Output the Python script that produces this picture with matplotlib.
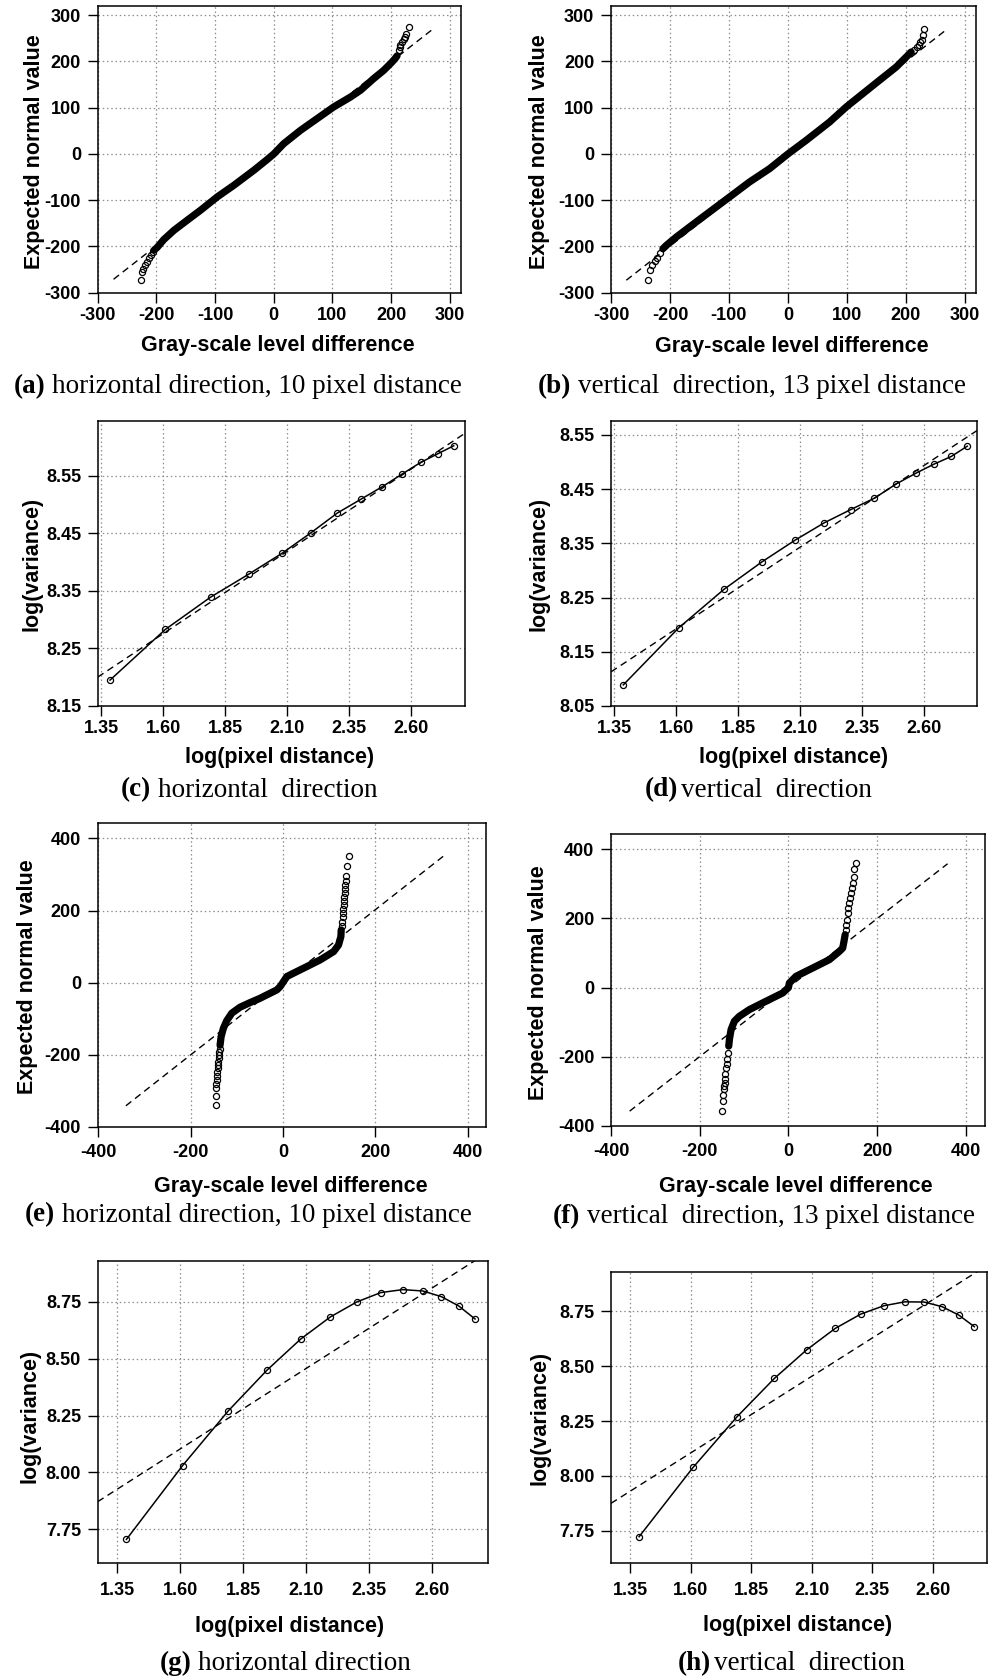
import numpy as np
import matplotlib
matplotlib.use("Agg")
import matplotlib.pyplot as plt
from matplotlib import font_manager as fm

# ---- data -------------------------------------------------------------
pixel_dist = [4, 5, 6, 7, 8, 9, 10, 11, 12, 13, 14, 15, 16]

# log(variance) per pixel distance
var_c = [8.195, 8.283, 8.339, 8.379, 8.415, 8.451, 8.485, 8.509, 8.531, 8.553, 8.573, 8.588, 8.602]
var_d = [8.089, 8.194, 8.265, 8.316, 8.356, 8.388, 8.412, 8.433, 8.459, 8.479, 8.496, 8.510, 8.529]
var_g = [7.706, 8.030, 8.271, 8.450, 8.586, 8.683, 8.749, 8.790, 8.803, 8.797, 8.772, 8.731, 8.674]
var_h = [7.724, 8.039, 8.270, 8.444, 8.574, 8.671, 8.736, 8.774, 8.792, 8.791, 8.770, 8.732, 8.679]

# least-squares lines (intercept, slope)
fit_c = (7.818, 0.2859)
fit_d = (7.710, 0.3015)
fit_g = (6.974, 0.7057)
fit_h = (6.992, 0.6958)

# normal QQ plots: dense body + separated tail points + qq line ends
qq_a_core_x = [-204.0, -198.6, -187.3, -170.0, -147.6, -124.9, -96.5, -68.0, -34.0, -11.4, 0.0, 17.0,
               45.4, 73.8, 102.0, 130.5, 147.6, 170.0, 187.3, 201.5, 207.0, 210.0]
qq_a_core_y = [-208.0, -202.0, -185.0, -165.0, -143.4, -121.8, -93.0, -67.7, -35.3, -12.2, 0.0, 22.3,
               51.0, 76.4, 101.6, 123.0, 137.6, 162.8, 180.8, 198.8, 206.8, 212.0]
qq_a_tail_x = [-227.0, -224.0, -222.4, -220.0, -216.8, -212.8, -208.8, -205.3,
               212.8, 214.5, 215.7, 218.6, 221.4, 223.0, 226.0, 229.9]
qq_a_tail_y = [-271.5, -255.0, -247.7, -240.5, -233.4, -226.0, -219.0, -211.8,
               224.1, 231.3, 236.4, 242.0, 247.9, 252.9, 260.2, 274.5]
qq_a_ref_x = [-273, 272]
qq_a_ref_y = [-271, 271]

qq_b_core_x = [-212.0, -206.0, -189.0, -166.7, -144.0, -98.9, -65.0, -31.0, 0.0, 31.0, 70.6, 98.9,
               127.0, 155.0, 183.6, 200.6, 209.0]
qq_b_core_y = [-205.0, -197.4, -179.4, -157.8, -136.0, -93.0, -60.5, -31.7, 0.0, 29.5, 69.0, 101.6,
               130.4, 159.0, 188.0, 209.6, 220.5]
qq_b_tail_x = [-237.3, -233.3, -230.0, -226.0, -222.0, -217.5,
               214.7, 218.6, 222.0, 224.3, 227.0, 228.8, 231.6]
qq_b_tail_y = [-273.0, -250.0, -240.6, -232.0, -224.0, -214.0,
               225.5, 231.0, 236.0, 242.0, 247.0, 256.5, 270.9]
qq_b_ref_x = [-274, 271]
qq_b_ref_y = [-273, 271]

qq_e_core_x = [-136.0, -133.7, -128.7, -121.4, -110.6, -92.6, -70.9, -50.0, -34.7, -13.0, -5.8, 0.0,
               8.7, 23.0, 52.0, 81.0, 110.0, 120.7, 125.7, 126.4]
qq_e_core_y = [-174.0, -150.0, -126.6, -105.5, -85.0, -68.3, -55.5, -44.0, -34.2, -20.4, -11.1, 0.0,
               16.7, 26.0, 44.4, 63.0, 86.0, 104.5, 127.7, 146.0]
qq_e_tail_x = [-145.2, -145.2, -144.6, -143.9, -143.2, -142.5, -141.8, -141.0, -140.3, -139.6,
               -138.8, -138.1, -137.4, -136.7,
               127.9, 128.6, 129.3, 130.0, 130.7, 131.4, 132.1, 132.9, 133.6, 134.3, 135.0,
               135.8, 136.5, 138.7, 142.3]
qq_e_tail_y = [-339.5, -313.6, -293.0, -281.0, -270.0, -259.0, -248.0, -238.0, -229.0, -220.0,
               -210.0, -201.0, -192.0, -183.0,
               157.0, 169.0, 181.5, 193.0, 204.0, 214.0, 225.0, 237.0, 248.0, 259.0, 271.0,
               283.0, 296.0, 324.0, 351.6]
qq_e_ref_x = [-340, 348]
qq_e_ref_y = [-342, 351]

qq_f_core_x = [-134.5, -133.0, -129.2, -121.7, -110.4, -87.9, -57.9, -27.8, -12.8, 0.0, 2.3, 17.3,
               32.3, 62.4, 92.4, 115.0, 122.5, 126.0, 128.0]
qq_f_core_y = [-169.0, -150.0, -121.0, -97.0, -82.7, -63.5, -44.2, -25.0, -15.4, 0.0, 13.5, 32.7,
               42.3, 61.5, 80.8, 104.8, 114.4, 138.5, 153.0]
qq_f_tail_x = [-149.5, -147.0, -146.5, -145.8, -145.0, -144.0, -143.0, -142.0, -140.5, -139.5,
               -138.0, -136.5,
               129.0, 130.0, 131.5, 133.7, 135.0, 137.5, 139.7, 142.0, 143.5, 145.0, 147.0,
               148.8, 152.5]
qq_f_tail_y = [-356.7, -328.0, -311.0, -294.0, -285.0, -275.0, -263.0, -251.0, -231.7, -220.0,
               -207.7, -188.0,
               167.0, 182.0, 196.0, 215.0, 230.0, 244.0, 258.7, 273.0, 287.5, 302.0, 319.0,
               342.0, 359.6]
qq_f_ref_x = [-358, 359]
qq_f_ref_y = [-357, 358]

ticks_qq300 = [-300, -200, -100, 0, 100, 200, 300]
ticks_qq400 = [-400, -200, 0, 200, 400]
ticks_logd = [1.35, 1.60, 1.85, 2.10, 2.35, 2.60]
ticks_var_c = [8.15, 8.25, 8.35, 8.45, 8.55]
ticks_var_d = [8.05, 8.15, 8.25, 8.35, 8.45, 8.55]
ticks_var_gh = [7.75, 8.00, 8.25, 8.50, 8.75]

# ---- fonts ------------------------------------------------------------
installed = {f.name for f in fm.fontManager.ttflist}


def pick(*names):
    for n in names:
        if n in installed:
            return n
    return "DejaVu Sans"


tick_font = pick("Liberation Sans Narrow", "Liberation Sans")
label_font = pick("Liberation Sans", "DejaVu Sans")
cap_font = pick("Liberation Serif", "DejaVu Serif")

plt.rcParams["font.family"] = tick_font
plt.rcParams["font.weight"] = "bold"
plt.rcParams["font.size"] = 13

W, H = 992, 1677
fig = plt.figure(figsize=(W / 100, H / 100), dpi=100)


def px(x, y):
    return x / W, 1 - y / H


def make_ax(x0, x1, y0, y1):
    return fig.add_axes([x0 / W, 1 - y1 / H, (x1 - x0) / W, (y1 - y0) / H])


def setup(ax, xlim, ylim, xt, yt, fmt, xpad=3.0):
    ax.set_xlim(xlim)
    ax.set_ylim(ylim)
    ax.set_xticks(xt)
    ax.set_yticks(yt)
    ax.set_xticklabels([fmt(v) for v in xt])
    ax.set_yticklabels([fmt(v) for v in yt])
    ax.grid(True, color="#8e8e8e", linestyle=(0, (1.2, 2.2)), lw=0.9)
    ax.set_axisbelow(True)
    ax.tick_params(direction="out", length=7.4, width=1.0, labelsize=13)
    ax.tick_params(axis="y", pad=4.6)
    ax.tick_params(axis="x", pad=xpad)
    for s in ax.spines.values():
        s.set_linewidth(1.1)


def qq(ax, cx, cy, tx, ty, rx, ry):
    ax.plot(cx, cy, color="black", lw=5.2, solid_capstyle="round", solid_joinstyle="round")
    ax.plot(tx, ty, "o", mfc="none", mec="black", ms=4.4, mew=0.9)
    ax.plot(rx, ry, color="black", lw=1.0, dashes=(5.0, 3.4))


def variance(ax, vals, fit):
    x = np.log(pixel_dist)
    ax.plot(x, vals, "-o", color="black", lw=1.1, mfc="none", ms=4.4, mew=0.9)
    ax.axline((0, fit[0]), slope=fit[1], color="black", lw=1.0, dashes=(5.0, 3.4))


def labels(xl, xl_pos, yl, yl_pos):
    fig.text(*px(*xl_pos), xl, ha="center", va="center", family=label_font,
             weight="bold", size=15.5)
    fig.text(*px(*yl_pos), yl, ha="center", va="center", rotation=90,
             family=label_font, weight="bold", size=15.5)


caps = []


def caption(tag, rest, cx, cy, gap=None):
    t1 = fig.text(0, 0, tag, family=cap_font, weight="bold", size=19.5, va="center")
    t2 = fig.text(0, 0, rest, family=cap_font, weight="normal", size=19.5, va="center")
    caps.append((t1, t2, cx, cy, gap))


def place_captions():
    r = fig.canvas.get_renderer()
    sp = fig.text(0, 0, "a a", family=cap_font, size=19.5)
    sp2 = fig.text(0, 0, "aa", family=cap_font, size=19.5)
    space = sp.get_window_extent(r).width - sp2.get_window_extent(r).width
    sp.remove()
    sp2.remove()
    for t1, t2, cx, cy, gap in caps:
        g = space if gap is None else gap
        w1 = t1.get_window_extent(r).width
        w2 = t2.get_window_extent(r).width
        x0 = cx - (w1 + g + w2) / 2
        t1.set_position(px(x0, cy))
        t2.set_position(px(x0 + w1 + g, cy))


int_fmt = lambda v: str(int(v))
dec_fmt = lambda v: f"{v:.2f}"

# (a)
ax = make_ax(97.7, 461, 6, 292.7)
setup(ax, (-300, 319), (-300, 320), ticks_qq300, ticks_qq300, int_fmt)
qq(ax, qq_a_core_x, qq_a_core_y, qq_a_tail_x, qq_a_tail_y, qq_a_ref_x, qq_a_ref_y)
labels("Gray-scale level difference", (277.8, 346), "Expected normal value", (35, 152))
caption("(a)", "horizontal direction, 10 pixel distance", 238, 386.7)

# (b)
ax = make_ax(611, 976, 6, 292.7)
setup(ax, (-300, 319), (-300, 320), ticks_qq300, ticks_qq300, int_fmt)
qq(ax, qq_b_core_x, qq_b_core_y, qq_b_tail_x, qq_b_tail_y, qq_b_ref_x, qq_b_ref_y)
labels("Gray-scale level difference", (791.7, 346.7), "Expected normal value", (539, 152))
caption("(b)", "vertical  direction, 13 pixel distance", 751.8, 386.7)

# (c)
ax = make_ax(97.7, 465, 420.7, 706)
setup(ax, (1.3366, 2.818), (8.15, 8.6455), ticks_logd, ticks_var_c, dec_fmt)
variance(ax, var_c, fit_c)
labels("log(pixel distance)", (280, 758), "log(variance)", (31.7, 564))
caption("(c)", "horizontal  direction", 249, 790)

# (d)
ax = make_ax(611, 977, 420.7, 706)
setup(ax, (1.3366, 2.812), (8.05, 8.576), ticks_logd, ticks_var_d, dec_fmt)
variance(ax, var_d, fit_d)
labels("log(pixel distance)", (793.5, 758), "log(variance)", (539.3, 564))
caption("(d)", "vertical  direction", 758.5, 790, gap=3)

# (e)
ax = make_ax(97.7, 486, 823.3, 1126.7)
setup(ax, (-401, 440), (-400, 442), ticks_qq400, ticks_qq400, int_fmt, xpad=5.0)
qq(ax, qq_e_core_x, qq_e_core_y, qq_e_tail_x, qq_e_tail_y, qq_e_ref_x, qq_e_ref_y)
labels("Gray-scale level difference", (290.8, 1186.7), "Expected normal value", (27.5, 976.7))
caption("(e)", "horizontal direction, 10 pixel distance", 248.3, 1215)

# (f)
ax = make_ax(611, 985.3, 834, 1126)
setup(ax, (-400, 444), (-400, 444), ticks_qq400, ticks_qq400, int_fmt, xpad=5.0)
qq(ax, qq_f_core_x, qq_f_core_y, qq_f_tail_x, qq_f_tail_y, qq_f_ref_x, qq_f_ref_y)
labels("Gray-scale level difference", (796.3, 1186.7), "Expected normal value", (538.5, 983))
caption("(f)", "vertical  direction, 13 pixel distance", 764.3, 1216.7)

# (g)
ax = make_ax(97.7, 487.7, 1260.7, 1563.3)
setup(ax, (1.272, 2.823), (7.601, 8.930), ticks_logd, ticks_var_gh, dec_fmt, xpad=6.0)
variance(ax, var_g, fit_g)
labels("log(pixel distance)", (290, 1626.7), "log(variance)", (30, 1415.7))
caption("(g)", "horizontal direction", 285, 1663)

# (h)
ax = make_ax(611, 987, 1271.7, 1563.3)
setup(ax, (1.270, 2.825), (7.603, 8.929), ticks_logd, ticks_var_gh, dec_fmt, xpad=6.0)
variance(ax, var_h, fit_h)
labels("log(pixel distance)", (797.7, 1625), "log(variance)", (540, 1418))
caption("(h)", "vertical  direction", 791, 1663.3, gap=3)

place_captions()
fig.savefig("out.png", dpi=100)
